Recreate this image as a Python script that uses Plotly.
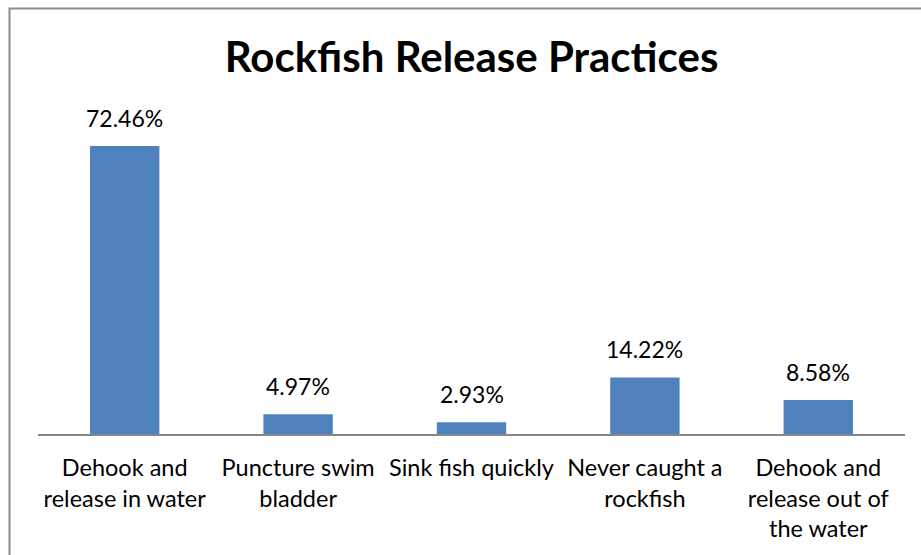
import plotly.graph_objects as go

# Survey results: share of anglers using each rockfish release practice
categories = [
    "Dehook and<br>release in water",
    "Puncture swim<br>bladder",
    "Sink fish quickly",
    "Never caught a<br>rockfish",
    "Dehook and<br>release out of<br>the water",
]
percentages = [72.46, 4.97, 2.93, 14.22, 8.58]

W, H = 921, 555
L, R, T, B = 38, 16, 116, 121
plot_w = W - L - R
plot_h = H - T - B

BAR_COLOR = "#4f81bd"
FONT = "Lato, Carlito, Calibri, sans-serif"

fig = go.Figure()
fig.add_trace(
    go.Bar(
        x=categories,
        y=percentages,
        marker=dict(color=BAR_COLOR, line=dict(width=0)),
        hoverinfo="skip",
    )
)

# Percentage labels above each bar
for cat, val in zip(categories, percentages):
    fig.add_annotation(
        x=cat, y=val, xref="x", yref="y",
        text=f"{val:.2f}%",
        showarrow=False, yanchor="bottom", yshift=12,
        font=dict(family=FONT, size=23, color="#000000"),
    )

# Chart frame (gray border around the chart area)
def px_to_paper_x(px):
    return (px - L) / plot_w

def px_to_paper_y(py):
    return (H - B - py) / plot_h

fig.add_shape(
    type="rect", xref="paper", yref="paper",
    x0=px_to_paper_x(9.5), x1=px_to_paper_x(980),
    y0=px_to_paper_y(600), y1=px_to_paper_y(8.5),
    line=dict(color="#8c8c8c", width=2), fillcolor="rgba(0,0,0,0)",
    layer="above",
)

fig.update_layout(
    width=W, height=H,
    margin=dict(l=L, r=R, t=T, b=B, pad=0),
    paper_bgcolor="white", plot_bgcolor="white",
    bargap=0.6,
    showlegend=False,
    title=dict(
        text="<b>Rockfish Release Practices</b>",
        x=0.5, xref="paper", xanchor="center",
        y=1 - 57 / H, yref="container", yanchor="middle",
        font=dict(family=FONT, size=42, color="#000000"),
    ),
    xaxis=dict(
        showline=True, linecolor="#868686", linewidth=1.5,
        ticks="", showgrid=False, zeroline=False,
        tickfont=dict(family=FONT, size=23.5, color="#000000"),
        ticklabelstandoff=12,
    ),
    yaxis=dict(
        range=[0, 80], visible=False, showgrid=False, zeroline=False,
    ),
)

fig.write_html("out.html")
